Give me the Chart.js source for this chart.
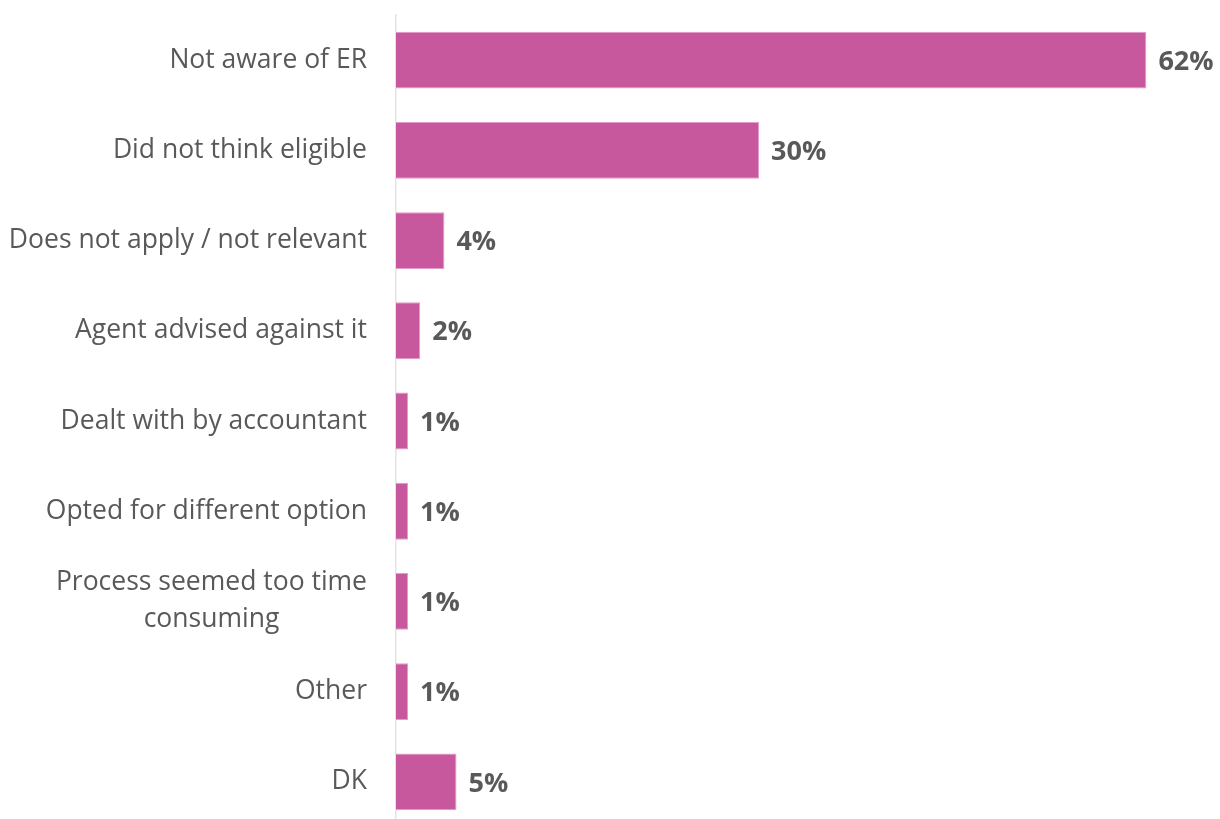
<!DOCTYPE html>
<html>
<head>
<meta charset="utf-8">
<script src="https://cdn.jsdelivr.net/npm/chart.js@4/dist/chart.umd.min.js"></script>
<style>
  html, body { margin: 0; padding: 0; background: #fff; overflow: hidden; }
  canvas { display: block; }
</style>
</head>
<body>
<canvas id="reasons_chart" width="1220" height="828"></canvas>
<script>
const reasons = [
    "Not aware of ER",
    "Did not think eligible",
    "Does not apply / not relevant",
    "Agent advised against it",
    "Dealt with by accountant",
    "Opted for different option",
    ["Process seemed too time", "consuming"],
    "Other",
    "DK"
]
const shares = [62, 30, 4, 2, 1, 1, 1, 1, 5]

const font_family = "'Open Sans', sans-serif"
const label_size = 26.5
const label_line = 37
const label_gap = 29

// writes the percentage just past the end of each bar
const value_labels = {
    id: "value_labels",
    afterDatasetsDraw(chart) {
        const ctx = chart.ctx
        const meta = chart.getDatasetMeta(0)
        ctx.save()
        ctx.font = "bold 27px " + font_family
        ctx.fillStyle = "#595959"
        ctx.textAlign = "left"
        ctx.textBaseline = "middle"
        meta.data.forEach((bar, i) => {
            ctx.fillText(shares[i] + "%", bar.x + 12, bar.y + 2)
        })
        ctx.restore()
    }
}

// category labels: block right-aligned to the axis, lines centred on each other
const category_labels = {
    id: "category_labels",
    afterDraw(chart) {
        const ctx = chart.ctx
        const scale = chart.scales.y
        const right = scale.right - label_gap
        ctx.save()
        ctx.font = label_size + "px " + font_family
        ctx.fillStyle = "#595959"
        ctx.textBaseline = "middle"
        ctx.textAlign = "center"
        reasons.forEach((label, i) => {
            const lines = Array.isArray(label) ? label : [label]
            const widest = Math.max(...lines.map((l) => ctx.measureText(l).width))
            const y0 = scale.getPixelForTick(i) - (lines.length - 1) * label_line / 2
            lines.forEach((line, j) => {
                ctx.fillText(line, right - widest / 2, y0 + j * label_line)
            })
        })
        ctx.restore()
    }
}

const bar_config = {
    type: "bar",
    data: {
        labels: reasons,
        datasets: [{
            data: shares,
            backgroundColor: "#C8589E",
            borderColor: "#E29BCB",
            borderWidth: 1,
            barPercentage: 0.63,
            categoryPercentage: 1
        }]
    },
    options: {
        indexAxis: "y",
        responsive: false,
        animation: false,
        layout: { padding: { top: 15, bottom: 1, left: 0, right: 1 } },
        plugins: {
            legend: { display: false },
            tooltip: { enabled: false }
        },
        scales: {
            x: {
                display: false,
                min: 0,
                max: 68
            },
            y: {
                afterFit: (scale) => {
                    scale.width = 396
                    scale.paddingTop = 0
                    scale.paddingBottom = 0
                },
                grid: { display: false, drawTicks: false },
                border: { display: true, color: "#e3e3e3", width: 1.5 },
                ticks: { display: false }
            }
        }
    },
    plugins: [value_labels, category_labels]
}

var ctx_bar = document.getElementById("reasons_chart")
var reasons_chart = new Chart(ctx_bar, bar_config)
</script>
</body>
</html>
